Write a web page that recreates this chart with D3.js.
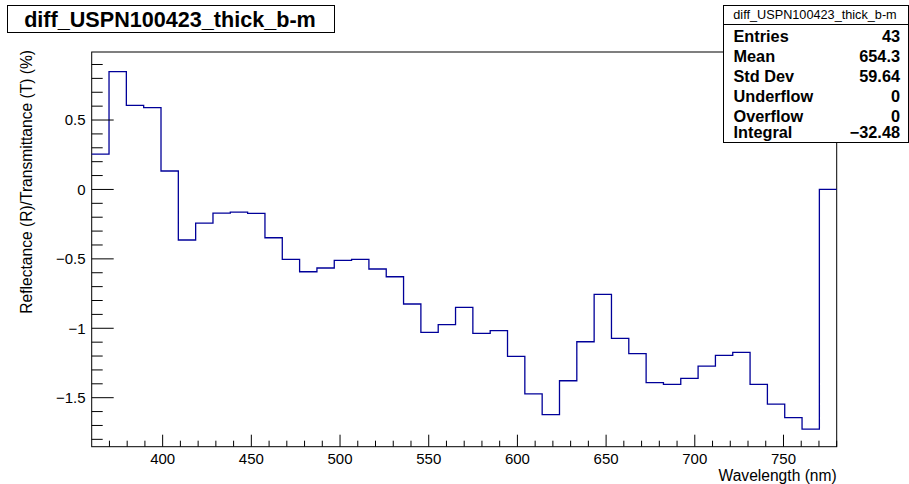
<!DOCTYPE html>
<html><head><meta charset="utf-8">
<script src="https://cdn.jsdelivr.net/npm/d3@7"></script>
<style>body{margin:0;background:#fff;}svg{display:block;font-family:"Liberation Sans",Arial,Helvetica,sans-serif;}</style>
</head><body>
<script>
const histTitle = "diff_USPN100423_thick_b-m";
const xTitle = "Wavelength (nm)";
const yTitle = "Reflectance (R)/Transmittance (T) (%)";
const xMin = 360, xMax = 780, nBins = 43;
const binValues = [0.255, 0.848, 0.606, 0.589, 0.133, -0.364, -0.242, -0.170, -0.163, -0.172,
  -0.348, -0.503, -0.593, -0.566, -0.511, -0.503, -0.573, -0.629, -0.825, -1.029,
  -0.974, -0.849, -1.037, -1.017, -1.202, -1.473, -1.622, -1.378, -1.097, -0.756,
  -1.073, -1.183, -1.392, -1.404, -1.361, -1.272, -1.195, -1.173, -1.404, -1.546,
  -1.644, -1.726, 0.0];
const xTicks = [400, 450, 500, 550, 600, 650, 700, 750];
const yTicks = [-1.5, -1, -0.5, 0, 0.5];
const yMin = -1.853, yMax = 0.99;
const statLabels = ["Entries", "Mean", "Std Dev", "Underflow", "Overflow", "Integral"];
const statValues = ["43", "654.3", "59.64", "0", "0", "\u221232.48"];

const W = 909, H = 484;
const frame = {left: 91.7, right: 836.7, top: 52, bottom: 446.7};
const svg = d3.select("body").append("svg").attr("width", W).attr("height", H);

const x = d3.scaleLinear().domain([xMin, xMax]).range([frame.left, frame.right]);
const y = d3.scaleLinear().domain([yMin, yMax]).range([frame.bottom, frame.top]);
const fmt = v => (v < 0 ? "\u2212" : "") + String(Math.abs(v));

// frame
svg.append("rect").attr("x", frame.left).attr("y", frame.top)
  .attr("width", frame.right - frame.left).attr("height", frame.bottom - frame.top)
  .attr("fill", "none").attr("stroke", "#000").attr("stroke-width", 1);

// histogram line
const bw = (xMax - xMin) / nBins;
const pts = [];
binValues.forEach((v, i) => { pts.push([xMin + i * bw, v]); pts.push([xMin + (i + 1) * bw, v]); });
svg.append("path").datum(pts)
  .attr("d", d3.line().x(d => x(d[0])).y(d => y(d[1])))
  .attr("fill", "none").attr("stroke", "#000099").attr("stroke-width", 1.3);

// x axis
const xMinor = d3.range(370, 781, 10).filter(v => !xTicks.includes(v));
const xa = svg.append("g");
xa.selectAll("line.mj").data(xTicks).join("line")
  .attr("x1", d => x(d)).attr("x2", d => x(d))
  .attr("y1", frame.bottom).attr("y2", frame.bottom - 12).attr("stroke", "#000");
xa.selectAll("line.mn").data(xMinor).join("line")
  .attr("x1", d => x(d)).attr("x2", d => x(d))
  .attr("y1", frame.bottom).attr("y2", frame.bottom - 6).attr("stroke", "#000");
xa.selectAll("text").data(xTicks).join("text")
  .attr("x", d => x(d)).attr("y", 463.5).attr("text-anchor", "middle")
  .attr("font-size", 15).text(d => d);
svg.append("text").attr("x", frame.right).attr("y", 480.5).attr("text-anchor", "end")
  .attr("font-size", 15.6).text(xTitle);

// y axis
const yMinor = d3.range(-18, 10).map(v => v / 10).filter(v => !yTicks.some(t => Math.abs(t - v) < 1e-9));
const ya = svg.append("g");
ya.selectAll("line.mj").data(yTicks).join("line")
  .attr("x1", frame.left).attr("x2", frame.left + 22)
  .attr("y1", d => y(d)).attr("y2", d => y(d)).attr("stroke", "#000");
ya.selectAll("line.mn").data(yMinor).join("line")
  .attr("x1", frame.left).attr("x2", frame.left + 11)
  .attr("y1", d => y(d)).attr("y2", d => y(d)).attr("stroke", "#000");
ya.selectAll("text").data(yTicks).join("text")
  .attr("x", 85.5).attr("y", d => y(d) + 5.4).attr("text-anchor", "end")
  .attr("font-size", 15).text(d => fmt(d));
svg.append("text").attr("transform", `translate(32,${frame.top - 2}) rotate(-90)`)
  .attr("text-anchor", "end").attr("font-size", 15.6).text(yTitle);

// title box
svg.append("rect").attr("x", 7.5).attr("y", 5.5).attr("width", 327).attr("height", 27)
  .attr("fill", "#fff").attr("stroke", "#000");
svg.append("text").attr("x", 170).attr("y", 26.8).attr("text-anchor", "middle")
  .attr("font-size", 21.6).attr("font-weight", "bold").text(histTitle);

// stats box
const sb = {x: 723.5, y: 5.5, w: 185, h: 137};
svg.append("rect").attr("x", sb.x).attr("y", sb.y).attr("width", sb.w).attr("height", sb.h)
  .attr("fill", "#fff").attr("stroke", "#000");
svg.append("line").attr("x1", sb.x).attr("x2", sb.x + sb.w).attr("y1", 24.5).attr("y2", 24.5).attr("stroke", "#000");
svg.append("text").attr("x", 815).attr("y", 19).attr("text-anchor", "middle")
  .attr("font-size", 12.7).text(histTitle);
const rowY = [41.7, 61.7, 81.7, 101.7, 121.7, 138];
svg.selectAll("text.sl").data(statLabels).join("text").attr("class", "sl")
  .attr("x", 733.5).attr("y", (d, i) => rowY[i]).attr("font-size", 16.3).attr("font-weight", "bold").text(d => d);
svg.selectAll("text.sv").data(statValues).join("text").attr("class", "sv")
  .attr("x", 900).attr("y", (d, i) => rowY[i]).attr("text-anchor", "end")
  .attr("font-size", 16.3).attr("font-weight", "bold").text(d => d);
</script>
</body></html>
